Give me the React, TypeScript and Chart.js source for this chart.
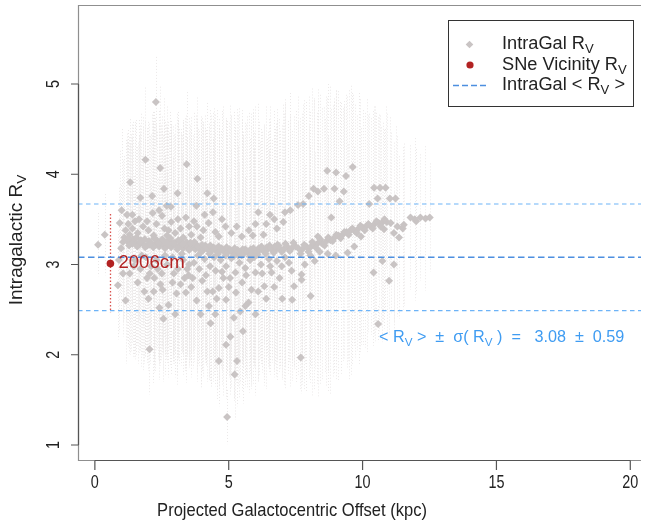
import React, { useEffect, useRef } from "react";
import { Chart, registerables } from "chart.js";
Chart.register(...registerables);

// ---------- axis ticks ----------
const xTickValues = [0, 5, 10, 15, 20];
const yTickValues = [1, 2, 3, 4, 5];

// ---------- summary ----------
const meanRv = 3.08;
const sigmaRv = 0.59;

// ---------- SNe vicinity ----------
const sneLabel = "2006cm";
const sneX = [0.58];
const sneY = [3.01];
const sneLow = [2.47];
const sneHigh = [3.56];

// ---------- IntraGal R_V: inner points (x < 1.2) ----------
const innerX = [0.12, 0.37, 0.86, 0.93, 1.05, 1.15, 1.10, 0.98, 0.90, 1.05];
const innerY = [3.22, 3.33, 2.77, 3.46, 3.25, 3.38, 3.30, 3.18, 3.05, 2.90];
const innerErr = [0.35, 0.45, 0.6, 0.8, 0.9, 1.0, 0.9, 0.7, 0.8, 0.7];

// ---------- dense band, row A ----------
const bandAX = [1.20, 1.35, 1.50, 1.65, 1.80, 1.95, 2.10, 2.25, 2.40, 2.55, 2.70, 2.85, 3.00, 3.15, 3.30, 3.45, 3.60, 3.75, 3.90, 4.05, 4.20, 4.35, 4.50, 4.65, 4.80, 4.95, 5.10, 5.25, 5.40, 5.55, 5.70, 5.85, 6.00, 6.15, 6.30, 6.45, 6.60, 6.75, 6.90, 7.05, 7.20, 7.35, 7.50];
const bandAY = [3.26, 3.24, 3.25, 3.22, 3.23, 3.21, 3.24, 3.22, 3.20, 3.23, 3.21, 3.19, 3.22, 3.20, 3.18, 3.20, 3.19, 3.17, 3.18, 3.16, 3.17, 3.15, 3.16, 3.14, 3.15, 3.13, 3.14, 3.12, 3.13, 3.12, 3.14, 3.13, 3.15, 3.16, 3.15, 3.17, 3.18, 3.16, 3.18, 3.17, 3.19, 3.18, 3.20];
const bandAErr = [1.1, 1.2, 1.3, 1.2, 1.4, 1.3, 1.2, 1.4, 1.3, 1.2, 1.3, 1.4, 1.2, 1.3, 1.4, 1.2, 1.3, 1.1, 1.3, 1.4, 1.2, 1.5, 1.3, 1.4, 1.6, 1.3, 1.5, 1.4, 1.6, 1.3, 1.5, 1.4, 1.3, 1.2, 1.4, 1.3, 1.2, 1.4, 1.3, 1.5, 1.4, 1.3, 1.5];

// ---------- dense band, row B ----------
const bandBX = [1.28, 1.42, 1.58, 1.72, 1.88, 2.02, 2.18, 2.32, 2.48, 2.62, 2.78, 2.92, 3.08, 3.22, 3.38, 3.52, 3.68, 3.82, 3.98, 4.12, 4.28, 4.42, 4.58, 4.72, 4.88, 5.02, 5.18, 5.32, 5.48, 5.62, 5.78, 5.92, 6.08, 6.22, 6.38, 6.52, 6.68, 6.82, 6.98, 7.12, 7.28, 7.42];
const bandBY = [3.21, 3.28, 3.20, 3.27, 3.19, 3.26, 3.19, 3.27, 3.24, 3.18, 3.26, 3.23, 3.17, 3.25, 3.22, 3.16, 3.23, 3.21, 3.14, 3.21, 3.12, 3.19, 3.11, 3.18, 3.10, 3.17, 3.09, 3.16, 3.10, 3.17, 3.09, 3.18, 3.11, 3.20, 3.12, 3.21, 3.13, 3.22, 3.14, 3.23, 3.15, 3.24];
const bandBErr = [1.2, 1.3, 1.1, 1.4, 1.2, 1.3, 1.5, 1.2, 1.3, 1.4, 1.2, 1.3, 1.5, 1.2, 1.4, 1.3, 1.2, 1.4, 1.5, 1.3, 1.4, 1.2, 1.6, 1.3, 1.5, 1.4, 1.6, 1.3, 1.5, 1.4, 1.3, 1.5, 1.4, 1.3, 1.2, 1.4, 1.3, 1.5, 1.4, 1.6, 1.5, 1.4];

// ---------- dense band, row C ----------
const bandCX = [1.24, 1.40, 1.55, 1.70, 1.86, 2.05, 2.22, 2.38, 2.52, 2.66, 2.82, 2.96, 3.12, 3.27, 3.42, 3.57, 3.72, 3.86, 4.00, 4.16, 4.31, 4.46, 4.62, 4.76, 4.92, 5.06, 5.22, 5.36, 5.52, 5.66, 5.82, 5.96, 6.12, 6.26, 6.42, 6.56, 6.72, 6.86];
const bandCY = [3.29, 3.23, 3.30, 3.25, 3.28, 3.22, 3.29, 3.24, 3.28, 3.25, 3.29, 3.24, 3.27, 3.23, 3.25, 3.24, 3.25, 3.20, 3.22, 3.19, 3.21, 3.18, 3.20, 3.17, 3.19, 3.16, 3.18, 3.15, 3.17, 3.15, 3.17, 3.16, 3.18, 3.17, 3.19, 3.18, 3.20, 3.21];
const bandCErr = [1.2, 1.1, 1.3, 1.2, 1.3, 1.2, 1.4, 1.3, 1.2, 1.3, 1.4, 1.2, 1.3, 1.2, 1.4, 1.3, 1.2, 1.3, 1.4, 1.3, 1.5, 1.4, 1.3, 1.5, 1.4, 1.6, 1.4, 1.5, 1.3, 1.4, 1.5, 1.3, 1.4, 1.3, 1.2, 1.4, 1.3, 1.4];

// ---------- rising band (outer disc), row A ----------
const riseAX = [7.60, 7.75, 7.90, 8.05, 8.20, 8.35, 8.50, 8.65, 8.80, 8.95, 9.10, 9.25, 9.40, 9.55, 9.70, 9.85, 10.00, 10.15, 10.30, 10.45, 10.60, 10.75, 10.90, 11.05, 11.54, 11.79, 11.95, 12.16, 12.35, 12.51];
const riseAY = [3.18, 3.17, 3.20, 3.19, 3.22, 3.24, 3.23, 3.26, 3.27, 3.30, 3.32, 3.33, 3.36, 3.38, 3.37, 3.40, 3.41, 3.43, 3.42, 3.45, 3.46, 3.47, 3.47, 3.46, 3.44, 3.52, 3.50, 3.52, 3.51, 3.52];
const riseAErr = [1.4, 1.5, 1.6, 1.5, 1.6, 1.7, 1.5, 1.6, 1.7, 1.5, 1.6, 1.4, 1.5, 1.6, 1.4, 1.5, 1.3, 1.4, 1.2, 1.3, 1.2, 1.1, 1.2, 1.0, 0.9, 0.8, 0.9, 0.7, 0.8, 0.6];

// ---------- rising band, row B ----------
const riseBX = [7.68, 7.82, 7.98, 8.12, 8.28, 8.42, 8.58, 8.72, 8.88, 9.02, 9.18, 9.32, 9.48, 9.62, 9.78, 9.92, 10.08, 10.22, 10.38, 10.52, 10.68, 10.82];
const riseBY = [3.12, 3.22, 3.14, 3.25, 3.18, 3.28, 3.21, 3.30, 3.26, 3.33, 3.29, 3.36, 3.33, 3.40, 3.35, 3.43, 3.38, 3.45, 3.40, 3.48, 3.42, 3.50];
const riseBErr = [1.5, 1.6, 1.4, 1.7, 1.5, 1.6, 1.4, 1.7, 1.5, 1.6, 1.5, 1.4, 1.6, 1.5, 1.3, 1.4, 1.3, 1.2, 1.3, 1.2, 1.1, 1.0];

// ---------- scattered points above the band: [x, R_V, sigma] ----------
const upperScatter: number[][] = [
  [2.28, 4.80, 0.5], [1.89, 4.16, 0.8], [2.44, 4.07, 0.9], [3.43, 4.11, 0.8], [3.83, 3.95, 0.9], [1.32, 3.91, 0.7], [2.58, 3.84, 1.0], [3.09, 3.79, 0.9], [4.20, 3.79, 1.0], [1.70, 3.74, 0.8],
  [2.14, 3.76, 0.9], [4.44, 3.73, 1.0], [2.68, 3.65, 1.1], [2.84, 3.64, 0.9], [3.79, 3.65, 1.0], [2.16, 3.57, 1.0], [2.51, 3.54, 1.1], [3.40, 3.52, 1.0], [4.41, 3.58, 1.1], [6.54, 3.55, 1.2],
  [1.25, 3.45, 0.9], [1.40, 3.40, 1.0], [1.50, 3.48, 1.1], [1.60, 3.35, 1.0], [1.80, 3.42, 1.1], [2.00, 3.38, 1.2], [2.30, 3.45, 1.1], [2.60, 3.40, 1.2], [2.85, 3.47, 1.0], [3.00, 3.35, 1.2],
  [3.20, 3.40, 1.1], [3.52, 3.42, 1.2], [3.81, 3.42, 1.1], [3.95, 3.30, 1.3], [4.05, 3.38, 1.2], [4.25, 3.46, 1.1], [4.63, 3.31, 1.3], [4.88, 3.42, 1.2], [5.10, 3.35, 1.3], [5.49, 3.31, 1.4],
  [5.75, 3.38, 1.3], [6.30, 3.33, 1.2], [6.00, 3.45, 1.3], [6.80, 3.40, 1.2], [7.04, 3.47, 1.3], [1.30, 3.33, 1.0], [2.70, 3.32, 1.2], [3.60, 3.33, 1.3], [7.30, 3.60, 1.3], [7.10, 3.58, 1.2],
  [8.68, 4.04, 0.8], [9.01, 4.02, 0.9], [9.38, 3.98, 0.9], [9.63, 4.08, 0.8], [8.17, 3.84, 1.0], [8.56, 3.84, 0.9], [8.95, 3.84, 1.0], [8.33, 3.81, 1.0], [9.30, 3.81, 1.0], [10.43, 3.85, 0.9],
  [10.65, 3.85, 0.8], [10.86, 3.85, 0.9], [7.99, 3.76, 1.1], [10.56, 3.73, 0.9], [11.02, 3.73, 0.9], [11.23, 3.73, 0.8], [9.14, 3.70, 1.1], [7.78, 3.67, 1.1], [7.59, 3.66, 1.2], [10.25, 3.67, 1.0],
  [8.83, 3.52, 1.2], [10.80, 3.39, 1.1], [11.17, 3.35, 1.0], [11.36, 3.30, 0.9], [9.94, 3.31, 1.2], [8.33, 3.31, 1.3], [11.50, 3.40, 0.9], [11.30, 3.42, 1.0], [12.00, 3.48, 0.8], [6.70, 3.50, 1.2],
  [1.40, 3.55, 1.0], [1.65, 3.50, 1.1], [1.95, 3.48, 1.0], [2.20, 3.32, 1.2], [2.40, 3.60, 1.1], [2.75, 3.38, 1.2], [3.10, 3.50, 1.1], [3.30, 3.30, 1.3], [3.70, 3.48, 1.2], [4.10, 3.55, 1.1],
  [4.50, 3.36, 1.3], [4.75, 3.50, 1.2], [5.30, 3.42, 1.3], [5.90, 3.32, 1.4], [6.10, 3.58, 1.2], [6.40, 3.45, 1.3], [1.20, 3.55, 0.9], [1.00, 3.60, 0.9],
];

// ---------- scattered points below the band: [x, R_V, sigma] ----------
const lowerScatter: number[][] = [
  [2.53, 2.72, 0.9], [3.40, 2.69, 1.0], [4.01, 2.82, 1.0], [4.63, 2.74, 1.1], [5.27, 2.69, 1.0], [4.90, 2.61, 0.9], [6.33, 2.76, 1.1], [5.74, 2.58, 1.0], [5.62, 2.54, 0.9], [4.26, 2.54, 0.8],
  [2.41, 2.52, 0.8], [2.56, 2.40, 0.7], [5.43, 2.48, 0.8], [5.19, 2.41, 0.9], [4.32, 2.35, 0.7], [5.53, 2.26, 0.8], [5.06, 2.20, 0.6], [4.90, 2.11, 0.6], [2.04, 2.06, 0.5], [4.63, 1.93, 0.5],
  [5.31, 1.93, 0.5], [5.22, 1.78, 0.5], [4.94, 1.31, 0.3], [2.22, 2.85, 0.9], [3.52, 3.00, 1.0], [4.51, 2.93, 1.1], [5.25, 2.91, 1.1], [5.62, 2.96, 1.0], [6.00, 2.91, 1.1], [6.60, 2.91, 1.0],
  [6.98, 2.98, 1.1], [7.35, 2.93, 1.0], [7.72, 2.83, 1.1], [8.40, 3.14, 1.2], [9.69, 3.20, 1.1], [9.44, 3.13, 1.2], [10.74, 3.04, 0.9], [11.17, 3.00, 0.8], [10.41, 2.91, 0.7], [10.99, 2.82, 0.6],
  [7.72, 2.89, 1.0], [7.44, 2.76, 0.9], [7.84, 3.00, 1.1], [8.21, 3.04, 1.2], [8.05, 3.10, 1.2], [8.70, 3.12, 1.3], [9.00, 3.10, 1.2], [10.58, 2.34, 0.2], [7.69, 1.97, 0.4], [8.06, 2.65, 0.8],
  [7.37, 2.61, 0.9], [1.50, 3.05, 1.0], [1.70, 2.95, 0.9], [1.90, 3.08, 1.0], [2.10, 2.98, 0.9], [2.30, 3.05, 1.0], [2.50, 2.90, 0.9], [2.70, 3.00, 1.0], [2.90, 3.08, 1.1], [3.10, 2.95, 1.0],
  [3.30, 3.05, 1.1], [3.50, 2.88, 1.0], [3.70, 3.02, 1.1], [3.90, 2.95, 1.0], [4.10, 3.06, 1.1], [4.30, 2.98, 1.0], [4.70, 3.05, 1.2], [4.90, 2.98, 1.1], [5.10, 3.07, 1.2], [5.40, 3.02, 1.1],
  [5.80, 3.05, 1.2], [6.20, 3.00, 1.1], [6.50, 3.06, 1.2], [6.80, 3.04, 1.1], [7.10, 3.08, 1.2], [7.25, 3.02, 1.1], [1.60, 2.80, 0.9], [1.85, 2.70, 0.8], [2.00, 2.62, 0.8], [2.90, 2.80, 0.9],
  [3.20, 2.78, 0.9], [3.60, 2.75, 1.0], [3.80, 2.60, 0.9], [4.40, 2.70, 1.0], [4.80, 2.85, 1.0], [5.50, 2.80, 1.1], [6.10, 2.70, 1.0], [6.70, 2.75, 1.0], [7.00, 2.62, 0.9], [1.30, 2.90, 0.9],
  [1.15, 2.60, 0.7], [2.75, 2.55, 0.8], [3.00, 2.45, 0.7], [3.95, 2.45, 0.8], [4.50, 2.45, 0.8], [6.00, 2.45, 0.9], [1.45, 2.98, 1.0], [1.75, 3.10, 1.1], [2.05, 2.90, 1.0], [2.35, 2.95, 1.0],
  [2.62, 3.10, 1.1], [2.95, 2.90, 1.0], [3.25, 3.12, 1.1], [3.45, 2.95, 1.0], [3.65, 2.85, 1.0], [3.85, 3.10, 1.1], [4.15, 2.88, 1.0], [4.45, 3.08, 1.2], [4.75, 2.92, 1.1], [5.05, 2.85, 1.1],
  [5.35, 3.10, 1.2], [5.65, 2.88, 1.1], [5.95, 3.08, 1.2], [6.25, 2.90, 1.1], [6.55, 2.98, 1.1], [6.90, 2.85, 1.0], [1.95, 2.85, 0.9], [2.45, 2.78, 0.9], [3.05, 2.68, 0.9], [3.35, 2.85, 1.0],
  [4.20, 2.70, 1.0], [4.55, 2.62, 1.0], [5.00, 2.75, 1.0], [5.85, 2.72, 1.1], [6.40, 2.62, 1.0], [2.20, 2.70, 0.9],
];

// ---------- text ----------
const xTitle = "Projected Galactocentric Offset (kpc)";
const yTitle = "Intragalactic R";
const legendLabels = [["IntraGal R", "V", ""], ["SNe Vicinity R", "V", ""], ["IntraGal < R", "V", " >"]];

type Pt = { x: number; y: number; e: number };
function buildGal(): Pt[] {
  const pts: Pt[] = [];
  const groups: [number[], number[], number[]][] = [
    [innerX, innerY, innerErr],
    [bandAX, bandAY, bandAErr],
    [bandBX, bandBY, bandBErr],
    [bandCX, bandCY, bandCErr],
    [riseAX, riseAY, riseAErr],
    [riseBX, riseBY, riseBErr],
  ];
  for (const r of upperScatter) pts.push({ x: r[0], y: r[1], e: r[2] });
  for (const r of lowerScatter) pts.push({ x: r[0], y: r[1], e: r[2] });
  for (const [gx, gy, ge] of groups) {
    const n = Math.min(gx.length, gy.length, ge.length);
    for (let i = 0; i < n; i++) pts.push({ x: gx[i], y: gy[i], e: ge[i] });
  }
  return pts;
}

const FONT = '"Liberation Sans", Arial, Helvetica, sans-serif';
const GRAY_PT = "#c9c4c4";
const RED = "#b22222";
const BLUE_MID = "#4d8fe0";
const BLUE_OUT = "#6db3f7";
const BLUE_TXT = "#3f9cf2";
const TXT = "#222222";

type Seg = { t: string; sub?: boolean };
function drawRich(ctx: CanvasRenderingContext2D, segs: Seg[], x: number, y: number, size: number, sx: number, color: string, align: "left" | "center", rot = 0) {
  ctx.save();
  ctx.translate(x, y);
  if (rot) ctx.rotate(rot);
  ctx.scale(sx, 1);
  ctx.fillStyle = color;
  ctx.textBaseline = "middle";
  ctx.textAlign = "left";
  const subSize = size * 0.72;
  let total = 0;
  const widths = segs.map((s) => {
    ctx.font = `${s.sub ? subSize : size}px ${FONT}`;
    const w = ctx.measureText(s.t).width;
    total += w;
    return w;
  });
  let cx = align === "center" ? -total / 2 : 0;
  segs.forEach((s, i) => {
    ctx.font = `${s.sub ? subSize : size}px ${FONT}`;
    ctx.fillText(s.t, cx, s.sub ? size * 0.3 : 0);
    cx += widths[i];
  });
  ctx.restore();
}

export default function App() {
  const ref = useRef<HTMLCanvasElement>(null);
  useEffect(() => {
    const canvas = ref.current;
    if (!canvas) return;
    const gal = buildGal();

    const decor = {
      id: "decor",
      beforeDatasetsDraw(chart: any) {
        const ctx: CanvasRenderingContext2D = chart.ctx;
        const xs = chart.scales.x, ys = chart.scales.y;
        const a = chart.chartArea;
        ctx.save();
        ctx.beginPath();
        ctx.rect(a.left, a.top, a.right - a.left, a.bottom - a.top);
        ctx.clip();
        ctx.strokeStyle = "#ebe8e8";
        ctx.lineWidth = 1;
        ctx.setLineDash([1, 2]);
        for (const p of gal) {
          const px = Math.round(xs.getPixelForValue(p.x)) + 0.5;
          ctx.beginPath();
          ctx.moveTo(px, ys.getPixelForValue(p.y + p.e));
          ctx.lineTo(px, ys.getPixelForValue(p.y - p.e));
          ctx.stroke();
        }
        ctx.strokeStyle = "#d9534f";
        ctx.lineWidth = 1.3;
        ctx.setLineDash([1.5, 2]);
        for (let i = 0; i < sneX.length; i++) {
          const px = Math.round(xs.getPixelForValue(sneX[i])) + 0.5;
          ctx.beginPath();
          ctx.moveTo(px, ys.getPixelForValue(sneHigh[i]));
          ctx.lineTo(px, ys.getPixelForValue(sneLow[i]));
          ctx.stroke();
        }
        ctx.restore();
      },
      afterDatasetsDraw(chart: any) {
        const ctx: CanvasRenderingContext2D = chart.ctx;
        const ys = chart.scales.y;
        const a = chart.chartArea;
        const lines: [number, string, number[], number][] = [
          [meanRv + sigmaRv, BLUE_OUT, [4.5, 3.5], 1.2],
          [meanRv, BLUE_MID, [6.5, 3.5], 1.4],
          [meanRv - sigmaRv, BLUE_OUT, [4.5, 3.5], 1.2],
        ];
        ctx.save();
        for (const [v, c, d, w] of lines) {
          const py = ys.getPixelForValue(v);
          ctx.strokeStyle = c;
          ctx.lineWidth = w;
          ctx.setLineDash(d);
          ctx.beginPath();
          ctx.moveTo(a.left, py);
          ctx.lineTo(a.right, py);
          ctx.stroke();
        }
        ctx.restore();
      },
      afterDraw(chart: any) {
        const ctx: CanvasRenderingContext2D = chart.ctx;
        const xs = chart.scales.x, ys = chart.scales.y;
        const a = chart.chartArea;
        ctx.save();
        // box (top, left, bottom)
        ctx.strokeStyle = "#8f8f8f";
        ctx.lineWidth = 1.2;
        ctx.beginPath();
        ctx.moveTo(a.right, a.top + 0.5);
        ctx.lineTo(a.left + 0.5, a.top + 0.5);
        ctx.lineTo(a.left + 0.5, a.bottom + 0.5);
        ctx.lineTo(a.right, a.bottom + 0.5);
        ctx.stroke();
        // axes
        ctx.strokeStyle = "#555555";
        ctx.lineWidth = 1.2;
        const y0 = ys.getPixelForValue(yTickValues[0]);
        const y1 = ys.getPixelForValue(yTickValues[yTickValues.length - 1]);
        ctx.beginPath();
        ctx.moveTo(a.left + 0.5, y0);
        ctx.lineTo(a.left + 0.5, y1);
        for (const t of yTickValues) {
          const py = ys.getPixelForValue(t);
          ctx.moveTo(a.left + 0.5, py);
          ctx.lineTo(a.left - 7, py);
        }
        const x0 = xs.getPixelForValue(xTickValues[0]);
        const x1 = xs.getPixelForValue(xTickValues[xTickValues.length - 1]);
        ctx.moveTo(x0, a.bottom + 0.5);
        ctx.lineTo(x1, a.bottom + 0.5);
        for (const t of xTickValues) {
          const px = xs.getPixelForValue(t);
          ctx.moveTo(px, a.bottom + 0.5);
          ctx.lineTo(px, a.bottom + 10);
        }
        ctx.stroke();
        // tick labels
        for (const t of xTickValues) {
          drawRich(ctx, [{ t: String(t) }], xs.getPixelForValue(t), a.bottom + 23, 18, 0.8, TXT, "center");
        }
        for (const t of yTickValues) {
          drawRich(ctx, [{ t: String(t) }], a.left - 24, ys.getPixelForValue(t), 18, 0.8, TXT, "center", -Math.PI / 2);
        }
        // axis titles
        drawRich(ctx, [{ t: xTitle }], 292, 511, 19, 0.87, TXT, "center");
        drawRich(ctx, [{ t: yTitle }, { t: "V", sub: true }], 17, 240, 19, 1.0, TXT, "center", -Math.PI / 2);

        // SNe label
        drawRich(ctx, [{ t: sneLabel }], xs.getPixelForValue(sneX[0]) + 8, ys.getPixelForValue(sneY[0]) - 0.5, 19, 0.98, RED, "left");

        // mean annotation
        drawRich(
          ctx,
          [{ t: "< R" }, { t: "V", sub: true }, { t: " >  ±  σ( R" }, { t: "V", sub: true }, { t: " )  =   " + meanRv.toFixed(2) + "  ±  " + sigmaRv.toFixed(2) }],
          379, 338, 16.2, 1.0, BLUE_TXT, "left"
        );

        // legend
        const lx = 448.5, ly = 20.5, lw = 185, lh = 86;
        ctx.fillStyle = "#ffffff";
        ctx.fillRect(lx, ly, lw, lh);
        ctx.strokeStyle = "#333333";
        ctx.lineWidth = 1;
        ctx.setLineDash([]);
        ctx.strokeRect(lx, ly, lw, lh);
        const rowY = [44.5, 65, 85.5];
        // gray diamond
        ctx.fillStyle = GRAY_PT;
        ctx.beginPath();
        ctx.moveTo(469.5, rowY[0] - 3.8);
        ctx.lineTo(473.3, rowY[0]);
        ctx.lineTo(469.5, rowY[0] + 3.8);
        ctx.lineTo(465.7, rowY[0]);
        ctx.closePath();
        ctx.fill();
        // red dot
        ctx.fillStyle = RED;
        ctx.beginPath();
        ctx.arc(470, rowY[1], 3.6, 0, Math.PI * 2);
        ctx.fill();
        // blue dash
        ctx.strokeStyle = BLUE_MID;
        ctx.lineWidth = 1.3;
        ctx.setLineDash([6, 3]);
        ctx.beginPath();
        ctx.moveTo(453, rowY[2]);
        ctx.lineTo(488, rowY[2]);
        ctx.stroke();
        ctx.setLineDash([]);
        legendLabels.forEach((lab, i) => {
          const segs: Seg[] = [{ t: lab[0] }, { t: lab[1], sub: true }];
          if (lab[2]) segs.push({ t: lab[2] });
          drawRich(ctx, segs, 502, rowY[i], 17.5, 1.04, TXT, "left");
        });
        ctx.restore();
      },
    };

    const chart = new Chart(canvas, {
      type: "scatter",
      data: {
        datasets: [
          {
            label: "SNe Vicinity",
            data: sneX.map((x, i) => ({ x, y: sneY[i] })),
            pointStyle: "circle",
            pointRadius: 3.8,
            backgroundColor: RED,
            borderColor: RED,
            borderWidth: 0,
          },
          {
            label: "IntraGal",
            data: gal.map((p) => ({ x: p.x, y: p.y })),
            pointStyle: "rectRot",
            pointRadius: 4,
            backgroundColor: GRAY_PT,
            borderColor: GRAY_PT,
            borderWidth: 0,
          },
        ],
      },
      options: {
        responsive: false,
        animation: false,
        events: [],
        layout: { padding: { left: 0, right: 0, top: 5, bottom: 0 } },
        plugins: { legend: { display: false }, tooltip: { enabled: false } },
        scales: {
          x: {
            type: "linear",
            min: -0.63,
            max: 20.4,
            ticks: { display: false },
            grid: { display: false },
            border: { display: false },
            afterFit: (s: any) => { s.height = 69; },
          },
          y: {
            type: "linear",
            min: 0.834,
            max: 5.875,
            ticks: { display: false },
            grid: { display: false },
            border: { display: false },
            afterFit: (s: any) => { s.width = 78; },
          },
        },
      },
      plugins: [decor],
    } as any);
    return () => chart.destroy();
  }, []);

  return (
    <div style={{ position: "absolute", left: 0, top: 0, width: 645, height: 529, background: "#fff" }}>
      <canvas ref={ref} width={645} height={529} style={{ display: "block", width: 645, height: 529 }} />
    </div>
  );
}
